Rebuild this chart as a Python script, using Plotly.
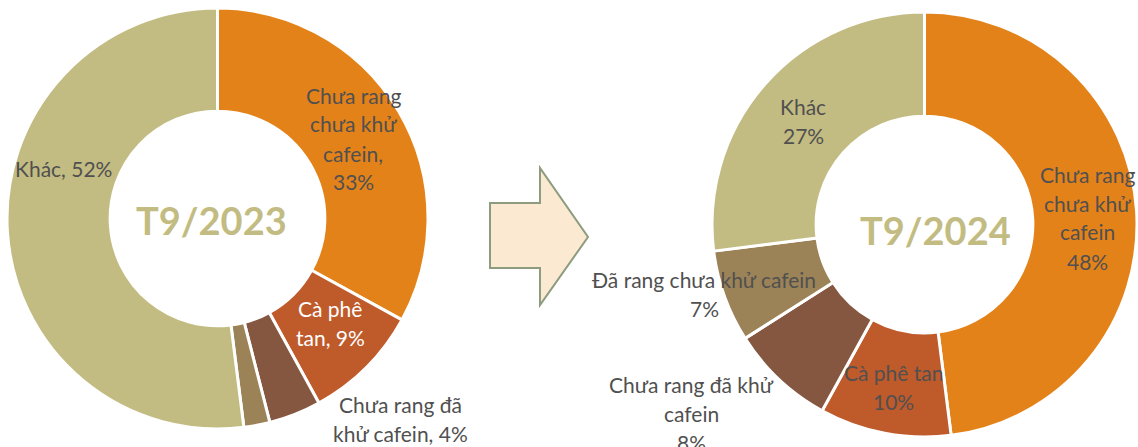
import plotly.graph_objects as go

# Coffee export structure, share by product group (%)
categories = [
    "Chưa rang chưa khử cafein",
    "Cà phê tan",
    "Chưa rang đã khử cafein",
    "Đã rang chưa khử cafein",
    "Khác",
]
share_2023 = [33, 9, 4, 2, 52]
share_2024 = [48, 10, 8, 7, 27]
period_labels = ["T9/2023", "T9/2024"]

colors = ["#E4821A", "#BF5A2B", "#855640", "#9C8257", "#C3BC82"]
label_color = "#505050"
title_color = "#C3BC82"
FONT = "Lato, 'Noto Sans', sans-serif"

W, H = 1138, 447
LINE = 29  # line pitch of the slice labels, px


def px(x):
    return x / W


def py(y):
    return 1 - y / H


fig = go.Figure()


def donut(values, x0, x1, y0, y1):
    fig.add_trace(go.Pie(
        labels=categories,
        values=values,
        sort=False,
        direction="clockwise",
        rotation=0,
        hole=0.51,
        marker=dict(colors=colors, line=dict(color="white", width=3)),
        textinfo="none",
        hoverinfo="label+percent",
        showlegend=False,
        domain=dict(x=[px(x0), px(x1)], y=[py(y1), py(y0)]),
    ))


donut(share_2023, 7, 428, 8, 429)
donut(share_2024, 712, 1137, 12, 437)


def label(lines, x, y, color=label_color, size=21):
    for i, line in enumerate(lines):
        fig.add_annotation(
            x=px(x), y=py(y + i * LINE), xref="paper", yref="paper",
            xanchor="center", yanchor="middle",
            text=line, showarrow=False, align="center",
            font=dict(family=FONT, size=size, color=color),
        )


# Labels for 2023
label(["Chưa rang", "chưa khử", "cafein,", f"{share_2023[0]}%"], 353, 95)
label(["Cà phê", f"tan, {share_2023[1]}%"], 330, 308, color="white")
label(["Chưa rang đã", f"khử cafein, {share_2023[2]}%"], 400, 404)
label([f"Khác, {share_2023[4]}%"], 63, 168)

# Labels for 2024
label(["Chưa rang", "chưa khử", "cafein", f"{share_2024[0]}%"], 1087, 174)
label(["Cà phê tan", f"{share_2024[1]}%"], 893, 372)
label(["Chưa rang đã khử", "cafein", f"{share_2024[2]}%"], 691, 384)
label(["Đã rang chưa khử cafein", f"{share_2024[3]}%"], 704, 279)
label(["Khác", f"{share_2024[4]}%"], 803, 106)

# Period titles in the donut holes
for text, (cx, cy) in zip(period_labels, [(211, 220), (936, 230)]):
    fig.add_annotation(
        x=px(cx), y=py(cy), xref="paper", yref="paper",
        xanchor="center", yanchor="middle",
        text=f"<b>{text}</b>", showarrow=False,
        font=dict(family=FONT, size=38, color=title_color),
    )

# Block arrow between the two donuts
arrow_pts = [(490, 203), (540, 203), (540, 168), (588, 237),
             (540, 305), (540, 268), (490, 268)]
path = "M " + " L ".join(f"{px(x):.5f},{py(y):.5f}" for x, y in arrow_pts) + " Z"
fig.add_shape(
    type="path", path=path, xref="paper", yref="paper",
    fillcolor="#FCE9D2", line=dict(color="#8D9B7E", width=2),
)

fig.update_layout(
    width=W, height=H,
    margin=dict(l=0, r=0, t=0, b=0),
    paper_bgcolor="white",
    plot_bgcolor="white",
)

fig.write_html("out.html")
